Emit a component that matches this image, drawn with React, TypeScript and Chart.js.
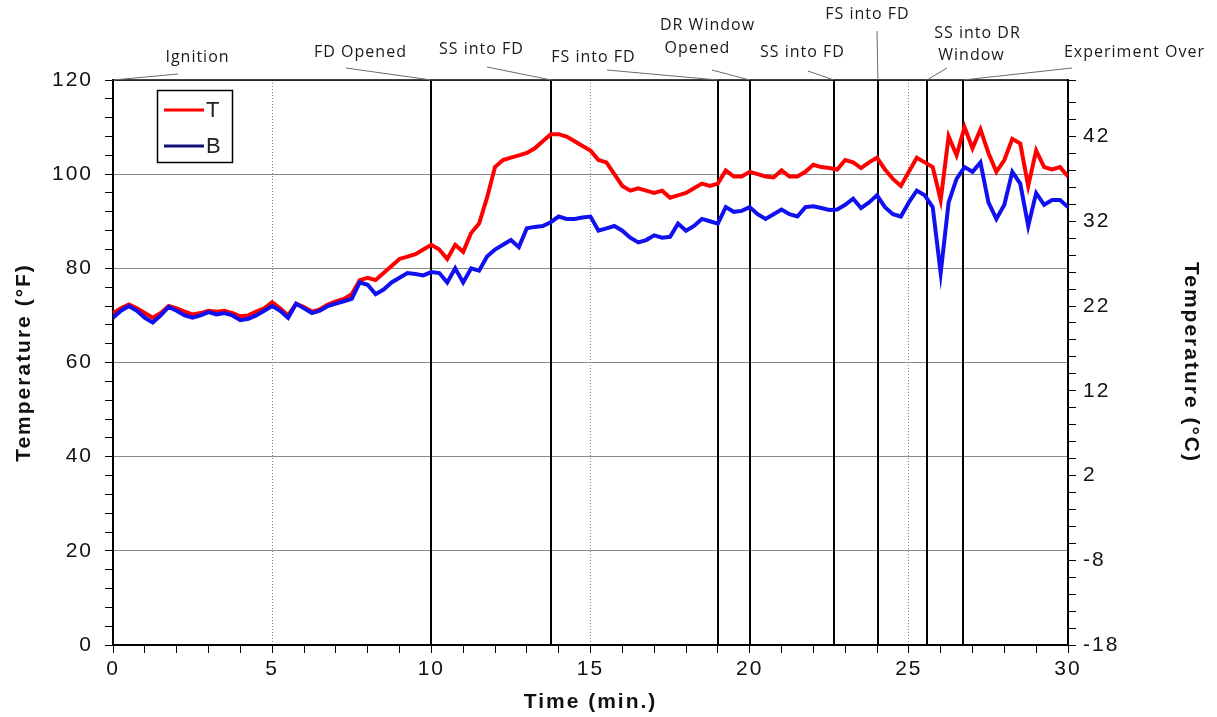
import React, { useEffect, useRef } from 'react';
import { Chart, registerables } from 'chart.js';

Chart.register(...registerables);

// ---- data ----
const TIME_STEP_MIN = 0.25;

// T series (°F), every 0.25 min from 0 to 30
const SERIES_T: number[] = [
  70.5, 71.5, 72.3, 71.5, 70.5, 69.5, 70.5, 72,
  71.5, 70.8, 70.2, 70.5, 71, 70.8, 71, 70.5,
  69.8, 70, 70.8, 71.5, 72.8, 71.5, 70, 72.5,
  71.8, 70.8, 71.3, 72.3, 73, 73.5, 74.5, 77.5,
  78, 77.5, 79, 80.5, 82, 82.5, 83, 84,
  85, 84, 82, 85, 83.5, 87.5, 89.5, 95,
  101.5, 103, 103.5, 104, 104.5, 105.5, 107, 108.5,
  108.5, 108, 107, 106, 105, 103, 102.5, 100,
  97.5, 96.5, 97, 96.5, 96, 96.5, 95, 95.5,
  96, 97, 98, 97.5, 98, 100.8, 99.5, 99.5,
  100.5, 100, 99.5, 99.3, 100.8, 99.5, 99.5, 100.5,
  102, 101.5, 101.3, 101, 103, 102.5, 101.3, 102.5,
  103.5, 101, 99, 97.5, 100.5, 103.5, 102.5, 101.5,
  94.5, 108, 104, 110, 105.5, 109.5, 104.5, 100.5,
  103, 107.5, 106.5, 97.5, 105, 101.5, 101, 101.5,
  99.5,
];

// B series (°F), every 0.25 min from 0 to 30
const SERIES_B: number[] = [
  69.5, 71, 72, 71, 69.5, 68.5, 70, 71.8,
  71, 70, 69.5, 70, 70.7, 70.2, 70.5, 70,
  69, 69.3, 70, 71, 72, 71, 69.5, 72.5,
  71.5, 70.5, 71, 72, 72.5, 73, 73.5, 77,
  76.5, 74.5, 75.5, 77, 78, 79, 78.8, 78.5,
  79.2, 79, 77, 80, 77, 80, 79.5, 82.5,
  84, 85, 86, 84.5, 88.5, 88.8, 89, 89.8,
  91, 90.5, 90.5, 90.8, 91, 88, 88.5, 89,
  88, 86.5, 85.5, 86, 87, 86.5, 86.7, 89.5,
  88, 89, 90.5, 90, 89.5, 93, 92, 92.2,
  93, 91.5, 90.5, 91.5, 92.5, 91.5, 91, 93,
  93.2, 92.8, 92.4, 92.5, 93.5, 94.8, 92.8, 94,
  95.5, 93, 91.5, 91, 94, 96.5, 95.5, 93,
  79, 94, 99, 101.5, 100.5, 102.5, 94, 90.5,
  93.5, 100.5, 98, 89, 96, 93.5, 94.5, 94.5,
  93,
];

const TIMES: number[] = SERIES_T.map((_, i) => i * TIME_STEP_MIN);
const SERIES_NAMES = ['T', 'B'];

const EVENT_TIMES = [0, 10, 13.77, 19.0, 20.0, 22.65, 24.03, 25.57, 26.7];
const EVENT_NAMES: string[][] = [
  ['Ignition'],
  ['FD Opened'],
  ['SS into FD'],
  ['FS into FD'],
  ['DR Window', 'Opened'],
  ['SS into FD'],
  ['FS into FD'],
  ['SS into DR', 'Window'],
  ['Experiment Over'],
];

const X_MIN = 0, X_MAX = 30, X_MINOR = 1, X_LABEL_EVERY = 5;
const YF_MIN = 0, YF_MAX = 120, YF_MINOR = 4, YF_LABEL_EVERY = 20;
const YC_MIN = -18, YC_MINOR = 2, YC_LABEL_EVERY = 10;

// ---- layout / style (pixels) ----
const EVENT_LABEL_LAYOUT = [
  { cx: [197], base: [62], lx: 178, ly: 74 },
  { cx: [360], base: [57], lx: 346, ly: 68 },
  { cx: [481], base: [54], lx: 487, ly: 67 },
  { cx: [593], base: [62], lx: 607, ly: 70 },
  { cx: [707, 697], base: [30, 53], lx: 712, ly: 70 },
  { cx: [802], base: [57], lx: 808, ly: 71 },
  { cx: [867], base: [19], lx: 877, ly: 31 },
  { cx: [977, 971], base: [38, 60], lx: 947, ly: 68 },
  { cx: [1134], base: [57], lx: 1072, ly: 68 },
];
const LINE_COLORS = ['#ff0000', '#1010f0'];
const LEGEND_COLORS = ['#ff0000', '#10107a'];

export default function App() {
  const ref = useRef<HTMLCanvasElement>(null);

  useEffect(() => {
    document.body.style.margin = '0';
    const canvas = ref.current;
    if (!canvas) return;

    const overlay = {
      id: 'overlay',
      beforeLayout(chart: any) {
        chart.ctx.letterSpacing = '2px';
      },
      beforeDraw(chart: any) {
        chart.ctx.letterSpacing = '2px';
      },
      beforeDatasetsDraw(chart: any) {
        const { ctx, chartArea: ca, scales } = chart;
        ctx.save();
        ctx.strokeStyle = '#000';
        ctx.lineWidth = 2;
        EVENT_TIMES.forEach((t) => {
          const x = Math.round(scales.x.getPixelForValue(t));
          ctx.beginPath();
          ctx.moveTo(x, ca.top);
          ctx.lineTo(x, ca.bottom);
          ctx.stroke();
        });
        ctx.restore();
      },
      afterDraw(chart: any) {
        const { ctx, chartArea: ca, scales } = chart;
        ctx.save();
        ctx.letterSpacing = '0px';
        // top border of plot area
        ctx.strokeStyle = '#000';
        ctx.lineWidth = 1.5;
        ctx.beginPath();
        ctx.moveTo(ca.left, ca.top);
        ctx.lineTo(ca.right, ca.top);
        ctx.stroke();
        // leader lines
        ctx.strokeStyle = '#6a6a6a';
        ctx.lineWidth = 1;
        EVENT_TIMES.forEach((t, i) => {
          const L = EVENT_LABEL_LAYOUT[i];
          const x = scales.x.getPixelForValue(t);
          ctx.beginPath();
          ctx.moveTo(L.lx, L.ly);
          ctx.lineTo(x, ca.top);
          ctx.stroke();
        });
        // labels
        ctx.fillStyle = '#1a1a1a';
        ctx.font = "16px 'Open Sans', sans-serif";
        ctx.letterSpacing = '1px';
        ctx.textAlign = 'center';
        ctx.textBaseline = 'alphabetic';
        EVENT_NAMES.forEach((lines, i) => {
          const L = EVENT_LABEL_LAYOUT[i];
          lines.forEach((s, j) => ctx.fillText(s, L.cx[j] + 0.5, L.base[j]));
        });
        // legend
        ctx.letterSpacing = '0px';
        ctx.fillStyle = '#fff';
        ctx.fillRect(157, 90, 75, 72);
        ctx.strokeStyle = '#000';
        ctx.lineWidth = 1.5;
        ctx.strokeRect(157.5, 90.5, 75, 72);
        ctx.font = "22px 'Liberation Sans', Arial, sans-serif";
        ctx.textAlign = 'left';
        ctx.textBaseline = 'middle';
        SERIES_NAMES.forEach((name, i) => {
          const y = 110 + i * 36;
          ctx.strokeStyle = LEGEND_COLORS[i];
          ctx.lineWidth = 3;
          ctx.beginPath();
          ctx.moveTo(164, y);
          ctx.lineTo(204, y);
          ctx.stroke();
          ctx.fillStyle = '#222';
          ctx.fillText(name, 206, y + 1);
        });
        ctx.restore();
      },
    };

    const tickFont = { family: "'Liberation Sans', Arial, sans-serif", size: 21 };
    const titleFont = { family: "'Liberation Sans', Arial, sans-serif", size: 21, weight: 'bold' as const };

    const chart = new Chart(canvas, {
      type: 'line',
      data: {
        datasets: [
          {
            label: SERIES_NAMES[0],
            data: TIMES.map((x, i) => ({ x, y: SERIES_T[i] })),
            borderColor: LINE_COLORS[0],
            backgroundColor: LINE_COLORS[0],
            borderWidth: 4,
            pointRadius: 0,
            tension: 0,
            yAxisID: 'y',
            order: 1,
          },
          {
            label: SERIES_NAMES[1],
            data: TIMES.map((x, i) => ({ x, y: SERIES_B[i] })),
            borderColor: LINE_COLORS[1],
            backgroundColor: LINE_COLORS[1],
            borderWidth: 4,
            pointRadius: 0,
            tension: 0,
            yAxisID: 'y',
            order: 0,
          },
        ],
      },
      options: {
        responsive: false,
        animation: false,
        events: [],
        layout: { padding: { top: 80, left: 0, right: 0, bottom: 0 } },
        plugins: { legend: { display: false }, tooltip: { enabled: false } },
        scales: {
          x: {
            type: 'linear',
            min: X_MIN,
            max: X_MAX,
            afterFit: (s: any) => { s.height = 72; },
            ticks: {
              stepSize: X_MINOR,
              autoSkip: false,
              maxRotation: 0,
              padding: 4,
              color: '#111',
              font: tickFont,
              callback: (v: any) => (Number(v) % X_LABEL_EVERY === 0 ? String(v) : ''),
            },
            grid: {
              color: (c: any) => (c.tick && c.tick.value % X_LABEL_EVERY === 0 ? '#8a8a8a' : 'rgba(0,0,0,0)'),
              lineWidth: 1,
              tickColor: '#000',
              tickLength: 8,
              tickWidth: 1,
            },
            border: {
              color: '#000',
              width: 2,
              dash: (c: any) => (c.type === 'tick' ? [1, 2] : []),
            },
            title: {
              display: true,
              text: 'Time (min.)',
              color: '#111',
              font: titleFont,
              padding: { top: 0, bottom: 2 },
            },
          },
          y: {
            type: 'linear',
            position: 'left',
            min: YF_MIN,
            max: YF_MAX,
            afterFit: (s: any) => { s.width = 113; },
            ticks: {
              stepSize: YF_MINOR,
              autoSkip: false,
              padding: 12,
              color: '#111',
              font: tickFont,
              callback: (v: any) => (Number(v) % YF_LABEL_EVERY === 0 ? String(v) : ''),
            },
            grid: {
              color: (c: any) => (c.tick && c.tick.value % YF_LABEL_EVERY === 0 ? '#8a8a8a' : 'rgba(0,0,0,0)'),
              lineWidth: 1,
              tickColor: '#000',
              tickLength: 8,
              tickWidth: 1,
            },
            border: { color: '#000', width: 2 },
            title: {
              display: true,
              text: 'Temperature (°F)',
              color: '#111',
              font: titleFont,
              padding: { top: 12, bottom: 12 },
            },
          },
          yC: {
            type: 'linear',
            position: 'right',
            min: YC_MIN,
            max: YC_MIN + ((YF_MAX - YF_MIN) * 5) / 9,
            afterFit: (s: any) => { s.width = 149; },
            ticks: {
              stepSize: YC_MINOR,
              autoSkip: false,
              padding: 7,
              color: '#111',
              font: tickFont,
              callback: (v: any) => {
                const n = Math.round(Number(v) * 1000) / 1000;
                return (n - YC_MIN) % YC_LABEL_EVERY === 0 ? String(n) : '';
              },
            },
            grid: {
              drawOnChartArea: false,
              tickColor: '#000',
              tickLength: 8,
              tickWidth: 1,
            },
            border: { color: '#000', width: 2 },
            title: {
              display: true,
              text: 'Temperature (°C)',
              color: '#111',
              font: titleFont,
              padding: { top: 14, bottom: 14 },
            },
          },
        },
      },
      plugins: [overlay],
    } as any);

    return () => chart.destroy();
  }, []);

  return (
    <div style={{ width: 1217, height: 717, background: '#fff' }}>
      <canvas ref={ref} width={1217} height={717} style={{ display: 'block' }} />
    </div>
  );
}
